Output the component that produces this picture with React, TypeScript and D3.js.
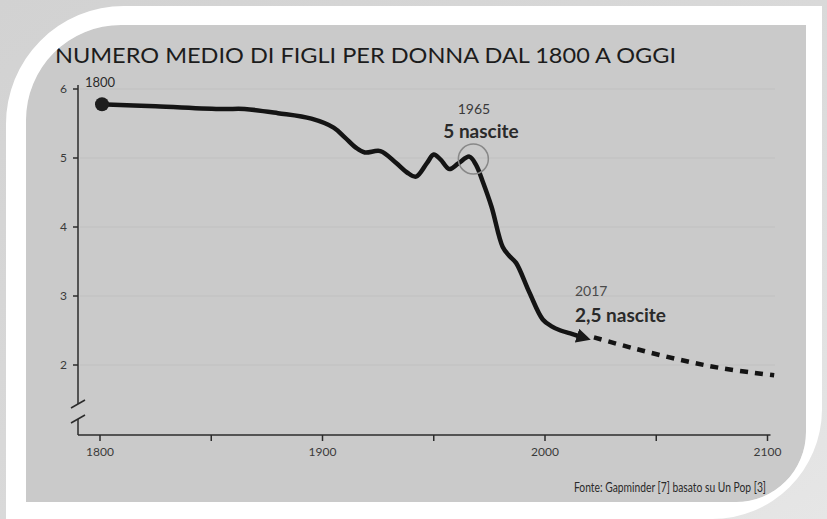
import * as d3 from "d3";

// dati (anni, figli per donna)
const histYears = [1800, 1825, 1855, 1865, 1880, 1895, 1905, 1910, 1915, 1919, 1926, 1933, 1938, 1942, 1947, 1950, 1953, 1957, 1961, 1966, 1969, 1972, 1976, 1981, 1984, 1987, 1993, 1999, 2003, 2007, 2012, 2015];
const histValues = [5.78, 5.75, 5.71, 5.71, 5.65, 5.57, 5.44, 5.3, 5.15, 5.08, 5.1, 4.93, 4.79, 4.73, 4.93, 5.05, 4.98, 4.84, 4.92, 5.02, 4.9, 4.66, 4.29, 3.71, 3.58, 3.48, 3.05, 2.66, 2.56, 2.5, 2.45, 2.42];
const projYears = [2022, 2040, 2060, 2080, 2103];
const projValues = [2.4, 2.24, 2.08, 1.95, 1.85];
const yTicks = [2, 3, 4, 5, 6];
const xTicks = [1800, 1850, 1900, 1950, 2000, 2050, 2100];
const xTickLabels = [1800, 1900, 2000, 2100];

const W = 827;
const H = 519;
const FONT = "Lato, 'Open Sans', sans-serif";

export default function App() {
  const x = d3.scaleLinear().domain([1800, 2100]).range([100, 767.5]);
  const y = d3.scaleLinear().domain([2, 6]).range([365, 89]);

  const hist = histYears.map((yr, i) => [yr, histValues[i]] as [number, number]);
  const proj = projYears.map((yr, i) => [yr, projValues[i]] as [number, number]);

  const line = d3
    .line<[number, number]>()
    .x((d) => x(d[0]))
    .y((d) => y(d[1]))
    .curve(d3.curveCatmullRom.alpha(0.5));

  const axisY = 435;

  // cornice bianca con il foro della pagina
  const outer = "M0,0H827V519H0Z";
  const frame =
    "M6,125 A118,118 0 0 1 124,6 H822 V410 A110,110 0 0 1 712,519 H6 Z";
  const page =
    "M26,120 A95,95 0 0 1 121,25 H806 V432 A70,70 0 0 1 736,502 H26 Z";

  return (
    <svg
      width={W}
      height={H}
      viewBox={`0 0 ${W} ${H}`}
      style={{ position: "absolute", left: 0, top: 0, display: "block" }}
    >
      <defs>
        <linearGradient id="bg" x1="0" y1="0" x2="1" y2="1">
          <stop offset="0" stopColor="#d2d2d2" />
          <stop offset="0.5" stopColor="#d9d9d9" />
          <stop offset="1" stopColor="#e6e6e6" />
        </linearGradient>
        <marker
          id="arrow"
          viewBox="0 0 10 10"
          refX="1"
          refY="5"
          markerWidth="3.2"
          markerHeight="3.2"
          markerUnits="strokeWidth"
          orient="auto"
        >
          <path d="M0,0 L10,5 L0,10 Z" fill="#1a1a1a" />
        </marker>
      </defs>

      <path d={outer} fill="url(#bg)" />
      <path d={page} fill="#cacaca" />

      {/* titolo */}
      <text
        x={55}
        y={63}
        fontFamily={FONT}
        fontSize={22}
        fill="#1c1c1c"
        textLength={621}
        lengthAdjust="spacingAndGlyphs"
      >
        NUMERO MEDIO DI FIGLI PER DONNA DAL 1800 A OGGI
      </text>

      {/* griglia */}
      {yTicks.map((t) => (
        <line
          key={`g${t}`}
          x1={80}
          x2={775}
          y1={y(t)}
          y2={y(t)}
          stroke="#c0c0c0"
          strokeWidth={1}
        />
      ))}

      {/* asse y con interruzione */}
      <g stroke="#2b2b2b" strokeWidth={1.5} fill="none">
        <line x1={78} x2={78} y1={85} y2={404} />
        <line x1={71} y1={408} x2={85} y2={400} />
        <line x1={71} y1={423} x2={85} y2={415} />
        <line x1={78} x2={78} y1={419} y2={axisY} />
        <line x1={78} x2={x(2100) + 3} y1={axisY} y2={axisY} />
        {yTicks.map((t) => (
          <line key={`yt${t}`} x1={73} x2={78} y1={y(t)} y2={y(t)} />
        ))}
        {xTicks.map((t) => (
          <line key={`xt${t}`} x1={x(t)} x2={x(t)} y1={axisY} y2={axisY + 6} />
        ))}
      </g>
      {yTicks.map((t) => (
        <text
          key={`yl${t}`}
          x={67}
          y={y(t) + 4}
          textAnchor="end"
          fontFamily={FONT}
          fontSize={12}
          fill="#3a3a3a"
        >
          {t}
        </text>
      ))}
      {xTickLabels.map((t) => (
        <text
          key={`xl${t}`}
          x={x(t)}
          y={axisY + 21}
          textAnchor="middle"
          fontFamily={FONT}
          fontSize={12}
          fill="#3a3a3a"
        >
          {t}
        </text>
      ))}

      {/* serie storica */}
      <path
        d={line(hist) ?? ""}
        fill="none"
        stroke="#141414"
        strokeWidth={4.5}
        strokeLinejoin="round"
        strokeLinecap="round"
        markerEnd="url(#arrow)"
      />
      <circle cx={x(hist[0][0]) + 2} cy={y(hist[0][1])} r={7} fill="#1e1e1e" />

      {/* proiezione */}
      <path
        d={line(proj) ?? ""}
        fill="none"
        stroke="#141414"
        strokeWidth={4.5}
        strokeDasharray="8 7"
      />

      {/* annotazioni */}
      <text x={85} y={87} fontFamily={FONT} fontSize={13} fill="#2a2a2a">
        1800
      </text>
      <circle
        cx={x(1966) + 4}
        cy={y(5.0) + 1}
        r={15}
        fill="none"
        stroke="#888"
        strokeWidth={1.5}
      />
      <text x={474} y={114} textAnchor="middle" fontFamily={FONT} fontSize={14} fill="#3a3a3a">
        1965
      </text>
      <text x={481} y={138} textAnchor="middle" fontFamily={FONT} fontSize={19} fontWeight={700} fill="#2a2a2a">
        5 nascite
      </text>
      <text x={575} y={296} fontFamily={FONT} fontSize={14} fill="#4a4a4a">
        2017
      </text>
      <text x={575} y={322} fontFamily={FONT} fontSize={19} fontWeight={700} fill="#2a2a2a">
        2,5 nascite
      </text>

      <text
        x={574}
        y={492}
        fontFamily={FONT}
        fontSize={13}
        fill="#2a2a2a"
        textLength={192}
        lengthAdjust="spacingAndGlyphs"
      >
        Fonte: Gapminder [7] basato su Un Pop [3]
      </text>

      {/* cornice bianca sopra tutto */}
      <path
        d={`${frame} ${page}`}
        fill="#ffffff"
        fillRule="evenodd"
      />
    </svg>
  );
}
